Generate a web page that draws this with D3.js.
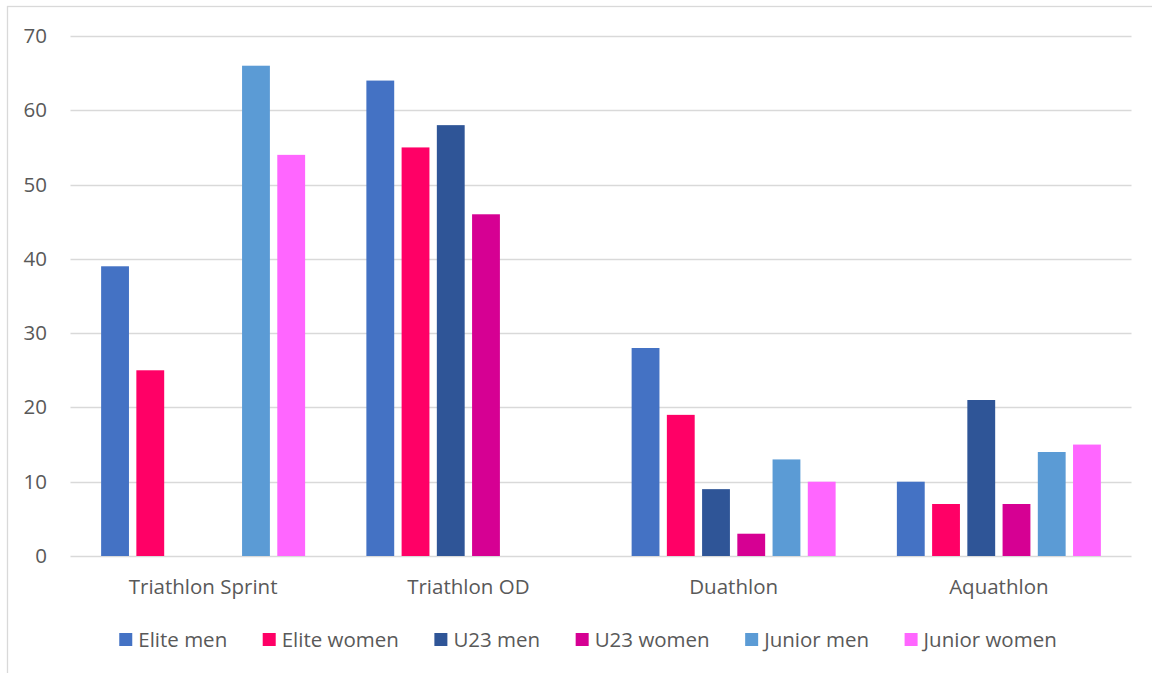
<!DOCTYPE html>
<html><head><meta charset="utf-8">
<script src="https://cdn.jsdelivr.net/npm/d3@7"></script>
<style>html,body{margin:0;padding:0;background:#fff;} svg{display:block;}</style>
</head><body>
<svg id="chart" width="1152" height="673"></svg>
<script>
const categories = ["Triathlon Sprint", "Triathlon OD", "Duathlon", "Aquathlon"];
const seriesNames = ["Elite men", "Elite women", "U23 men", "U23 women", "Junior men", "Junior women"];
const seriesColors = ["#4472C4", "#FF0066", "#2F5597", "#D60093", "#5B9BD5", "#FF66FF"];
const eliteMen    = [39, 64, 28, 10];
const eliteWomen  = [25, 55, 19, 7];
const u23Men      = [0, 58, 9, 21];
const u23Women    = [0, 46, 3, 7];
const juniorMen   = [66, 0, 13, 14];
const juniorWomen = [54, 0, 10, 15];
const yTicks = [0, 10, 20, 30, 40, 50, 60, 70];

(function () {
const seriesValues = [eliteMen, eliteWomen, u23Men, u23Women, juniorMen, juniorWomen];
const FONT = "'Open Sans', Lato, sans-serif";
const FS = 20.5;
const TXT = "#595959";
const svg = d3.select("#chart");

// chart border
svg.append("rect").attr("x", 7.5).attr("y", 6.5).attr("width", 1170).attr("height", 700)
  .attr("fill", "none").attr("stroke", "#D9D9D9").attr("stroke-width", 1.3);

const pLeft = 70.5, pRight = 1131.5, pTop = 36, pBottom = 556;
const x0 = d3.scaleBand().domain(categories).range([pLeft, pRight]).padding(0);
const y = d3.scaleLinear().domain([0, 70]).range([pBottom, pTop]);
const inner = 204;
const x1 = d3.scaleBand().domain(seriesNames)
  .range([(x0.bandwidth() - inner) / 2, (x0.bandwidth() + inner) / 2])
  .paddingInner(0.21).paddingOuter(0);

// gridlines
svg.append("g").selectAll("line").data(yTicks).join("line")
  .attr("x1", pLeft).attr("x2", pRight)
  .attr("y1", d => Math.round(y(d)) + 0.5).attr("y2", d => Math.round(y(d)) + 0.5)
  .attr("stroke", "#D9D9D9").attr("stroke-width", 1.4);

// y axis labels
const yAxis = d3.axisLeft(y).tickValues(yTicks).tickSize(0).tickPadding(0);
const ya = svg.append("g").attr("transform", "translate(47,0)").call(yAxis);
ya.select(".domain").remove();
ya.selectAll("text").attr("font-family", FONT).attr("font-size", FS).attr("fill", TXT);

// bars
const groups = svg.append("g").selectAll("g").data(categories).join("g")
  .attr("transform", d => `translate(${x0(d)},0)`);
groups.selectAll("rect").data((c, ci) => seriesNames.map((s, si) => ({s, si, v: seriesValues[si][ci]})))
  .join("rect")
  .attr("x", d => x1(d.s)).attr("width", x1.bandwidth())
  .attr("y", d => y(d.v)).attr("height", d => y(0) - y(d.v))
  .attr("fill", d => seriesColors[d.si]);

// category labels
const xAxis = d3.axisBottom(x0).tickSize(0).tickPadding(0);
const xa = svg.append("g").attr("transform", `translate(0,${pBottom})`).call(xAxis);
xa.select(".domain").remove();
xa.selectAll("text").attr("font-family", FONT).attr("font-size", FS).attr("fill", TXT)
  .attr("dy", null).attr("y", 38);

// legend
const lg = svg.append("g");
const items = lg.selectAll("g").data(seriesNames).join("g");
items.append("rect").attr("width", 13).attr("height", 13).attr("y", 633)
  .attr("fill", (d, i) => seriesColors[i]);
items.append("text").text(d => d).attr("x", 19).attr("y", 647)
  .attr("font-family", FONT).attr("font-size", FS).attr("fill", TXT);
let widths = [];
items.each(function() { widths.push(19 + d3.select(this).select("text").node().getComputedTextLength()); });
const gap = 35.5;
const total = d3.sum(widths) + gap * (widths.length - 1);
let cx = 588 - total / 2;
items.each(function(d, i) { d3.select(this).attr("transform", `translate(${cx},0)`); cx += widths[i] + gap; });
})();
</script>
</body></html>
